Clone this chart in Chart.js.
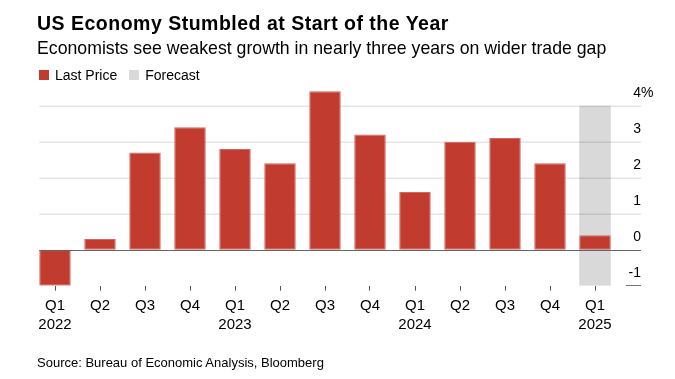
<!DOCTYPE html>
<html>
<head>
<meta charset="utf-8">
<script src="https://cdn.jsdelivr.net/npm/chart.js@4.4.1/dist/chart.umd.min.js"></script>
<style>
  html, body { margin: 0; padding: 0; background: #fff; }
  body { width: 675px; height: 379px; position: relative; overflow: hidden;
         font-family: "Liberation Sans", Arial, Helvetica, sans-serif; color: #000; }
  #wrap { position: absolute; left: 0; top: 0; width: 675px; height: 379px; }
  .t { position: absolute; white-space: nowrap; line-height: 1; }
  #title { left: 37px; top: 14px; font-size: 19.5px; font-weight: bold; letter-spacing: 0.5px; }
  #subtitle { left: 37px; top: 40px; font-size: 17.7px; }
  #legend { left: 39px; top: 68px; font-size: 14px; display: flex; align-items: center; }
  #legend .sw { width: 10px; height: 10px; display: inline-block; margin-right: 6px; }
  #legend .item { display: flex; align-items: center; margin-right: 12px; }
  #source { left: 37px; top: 355.5px; font-size: 13px; }
</style>
</head>
<body>
<div id="wrap"><canvas id="c" width="675" height="379"></canvas></div>
<div class="t" id="title">US Economy Stumbled at Start of the Year</div>
<div class="t" id="subtitle">Economists see weakest growth in nearly three years on wider trade gap</div>
<div class="t" id="legend">
  <span class="item"><span class="sw" style="background:#c23b2f"></span>Last Price</span>
  <span class="item"><span class="sw" style="background:#d9d9d9"></span>Forecast</span>
</div>
<div class="t" id="source">Source: Bureau of Economic Analysis, Bloomberg</div>
<script>
// ---- data ----
const quarters = ['Q1','Q2','Q3','Q4','Q1','Q2','Q3','Q4','Q1','Q2','Q3','Q4','Q1'];
const years    = ['2022','','','','2023','','','','2024','','','','2025'];
const lastPrice = [-1.0, 0.3, 2.7, 3.4, 2.8, 2.4, 4.4, 3.2, 1.6, 3.0, 3.1, 2.4, 0.4];
const forecastBand = [null,null,null,null,null,null,null,null,null,null,null,null,[-1, 4]];
const yTicks = [-1, 0, 1, 2, 3, 4];

const labels = quarters.map((q, i) => [q, years[i]]);

const gridPlugin = {
  id: 'bbgGrid',
  beforeDatasetDraw(chart, args) {
    if (args.index !== 0) return;
    const ctx = chart.ctx, y = chart.scales.y;
    const meta = chart.getDatasetMeta(0);
    const startX = meta.data[0].x - meta.data[0].width / 2;
    const endX = y.right;
    ctx.save();
    ctx.lineWidth = 1.5;
    ctx.strokeStyle = 'rgba(0,0,0,0.10)';
    yTicks.forEach(v => {
      if (v <= 0) return;
      const py = Math.round(y.getPixelForValue(v)) + 0.25;
      ctx.beginPath(); ctx.moveTo(startX, py); ctx.lineTo(endX, py); ctx.stroke();
    });
    ctx.restore();
  },
  afterDatasetsDraw(chart) {
    const ctx = chart.ctx, y = chart.scales.y;
    const meta = chart.getDatasetMeta(0);
    const startX = meta.data[0].x - meta.data[0].width / 2;
    ctx.save();
    ctx.strokeStyle = '#666';
    ctx.lineWidth = 1;
    const p0 = Math.round(y.getPixelForValue(0)) + 0.5;
    ctx.beginPath(); ctx.moveTo(startX, p0); ctx.lineTo(y.right, p0); ctx.stroke();
    const pm = Math.round(y.getPixelForValue(-1)) - 0.5;
    ctx.strokeStyle = '#777';
    ctx.beginPath(); ctx.moveTo(y.right - 15, pm); ctx.lineTo(y.right, pm); ctx.stroke();
    // percent sign after the top tick
    const top = yTicks[yTicks.length - 1];
    ctx.font = '14px "Liberation Sans", Arial, sans-serif';
    ctx.fillStyle = '#000';
    ctx.textAlign = 'left';
    ctx.textBaseline = 'middle';
    ctx.fillText('%', y.right, y.getPixelForValue(top) - 13);
    ctx.restore();
  }
};

new Chart(document.getElementById('c'), {
  type: 'bar',
  data: {
    labels: labels,
    datasets: [
      {
        label: 'Last Price',
        data: lastPrice,
        backgroundColor: '#c23b2f',
        borderColor: '#d2675d',
        borderWidth: 1,
        borderSkipped: false,
        order: 0
      },
      {
        label: 'Forecast',
        data: forecastBand,
        backgroundColor: '#d9d9d9',
        borderWidth: 0,
        order: 1
      }
    ]
  },
  options: {
    responsive: false,
    animation: false,
    events: [],
    grouped: false,
    barPercentage: 0.7,
    categoryPercentage: 1.0,
    layout: { padding: { left: 32.5, top: 87.7, right: 34, bottom: 0 } },
    plugins: { legend: { display: false }, title: { display: false }, tooltip: { enabled: false } },
    scales: {
      x: {
        offset: true,
        grid: { display: true, drawOnChartArea: false, drawTicks: true, tickLength: 5,
                color: '#555', lineWidth: 1, offset: false },
        border: { display: false },
        ticks: {
          color: '#000', padding: 6, maxRotation: 0, autoSkip: false,
          font: { family: '"Liberation Sans", Arial, sans-serif', size: 15, lineHeight: 1.27 }
        },
        afterFit(s) { s.height = 379 - 285.7; }
      },
      y: {
        position: 'right',
        min: -1, max: 4.5,
        grid: { display: false, drawTicks: false },
        border: { display: false },
        ticks: {
          stepSize: 1, includeBounds: false,
          crossAlign: 'far', padding: 0, labelOffset: -13,
          color: '#000',
          font: { family: '"Liberation Sans", Arial, sans-serif', size: 14 },
          callback: v => String(v)
        },
        afterFit(s) { s.width = 23.5; }
      }
    }
  },
  plugins: [gridPlugin]
});
</script>
</body>
</html>
